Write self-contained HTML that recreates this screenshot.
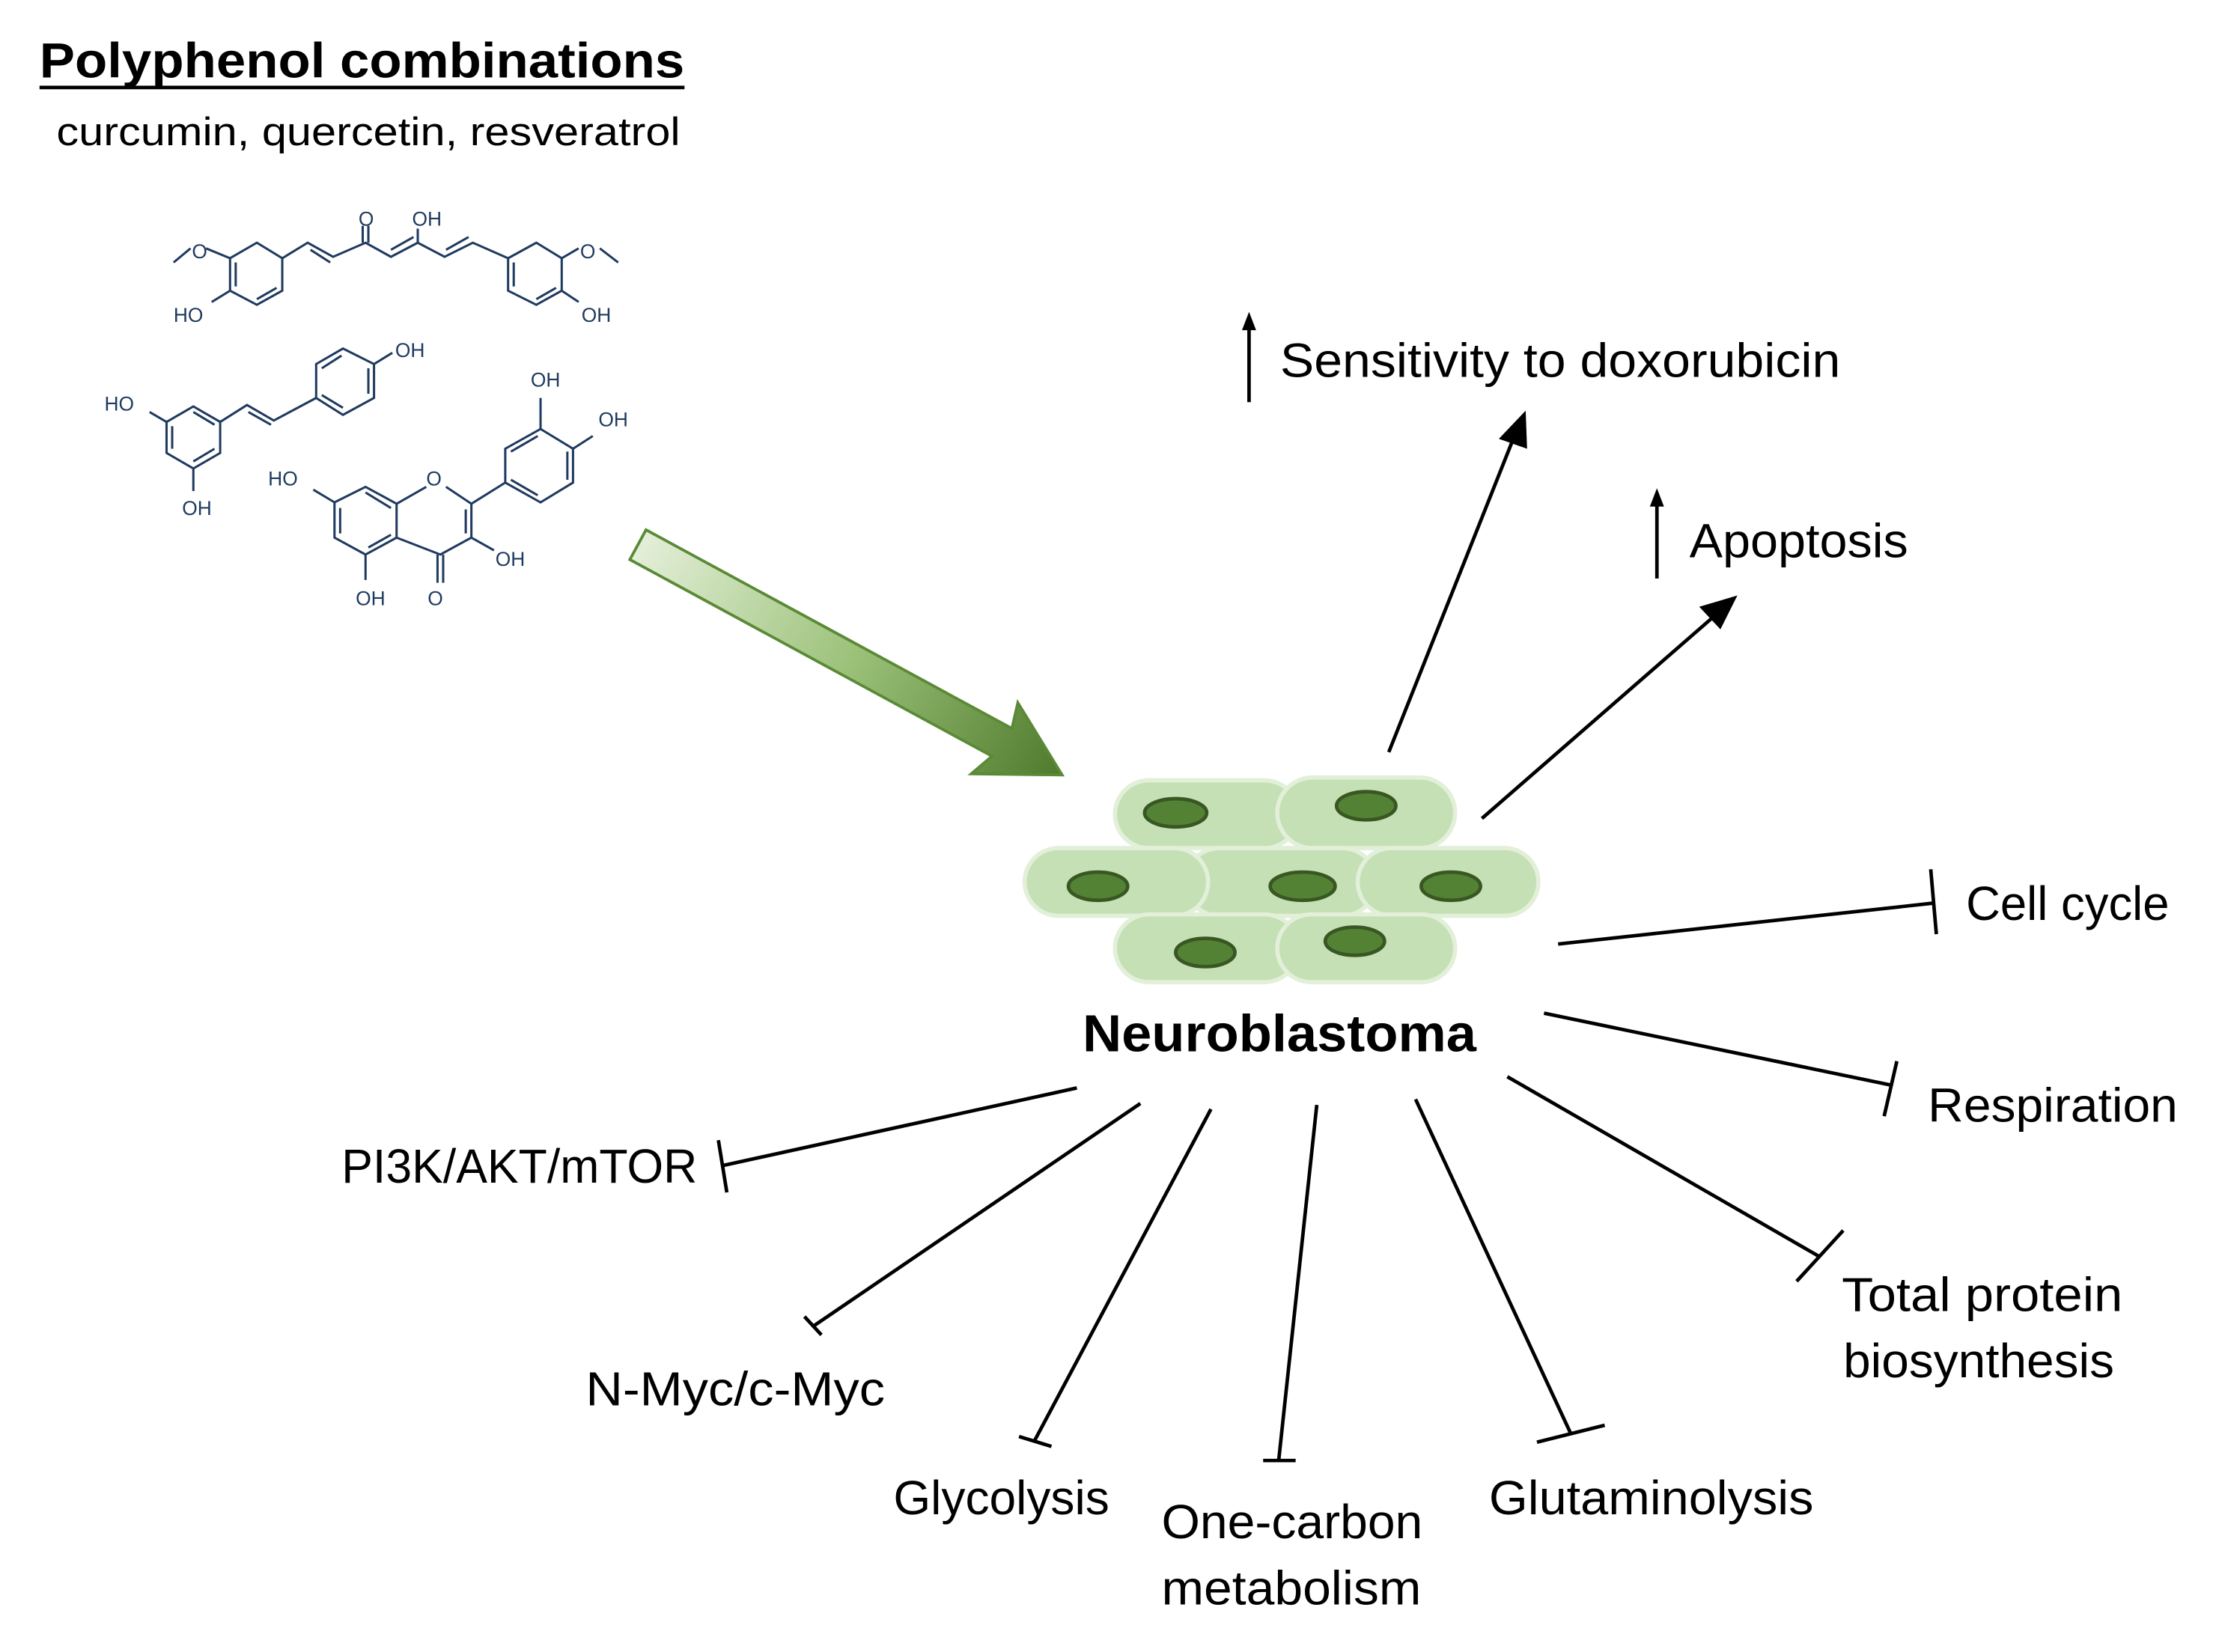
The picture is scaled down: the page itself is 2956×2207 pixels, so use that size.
<!DOCTYPE html>
<html><head><meta charset="utf-8"><style>html,body{margin:0;padding:0;background:#fff}svg{display:block}</style></head>
<body>
<svg width="2956" height="2207" viewBox="0 0 1568 1170.7" xmlns="http://www.w3.org/2000/svg" font-family="'Liberation Sans', sans-serif">
<defs>
<linearGradient id="g" x1="0" y1="0" x2="1" y2="0">
<stop offset="0" stop-color="#e4efd9"/><stop offset="0.5" stop-color="#9cc27a"/><stop offset="1" stop-color="#4f7a2c"/>
</linearGradient>
</defs>
<rect width="1600" height="1200" fill="#fff"/>
<text x="28" y="55" font-size="35" font-weight="bold" textLength="457" lengthAdjust="spacingAndGlyphs">Polyphenol combinations</text>
<line x1="28" y1="62" x2="485" y2="62" stroke="#000" stroke-width="2.5"/>
<text x="40" y="103" font-size="28" textLength="442" lengthAdjust="spacingAndGlyphs">curcumin, quercetin, resveratrol</text>

<g stroke="#1f3a5f" stroke-width="1.6" fill="none">
<polygon points="163,183 182,172 200,183 200,206 182,216 163,206"/>
<line x1="167" y1="186" x2="167" y2="203"/><line x1="196" y1="204" x2="182" y2="212"/>
<polyline points="200,183 218,172 236,182 259,172 277,182 296,172 315,182 335,172 360,183"/>
<line x1="220" y1="177" x2="234" y2="186"/><line x1="277" y1="177" x2="293" y2="168"/><line x1="316" y1="177" x2="332" y2="168"/>
<line x1="257" y1="172" x2="257" y2="160"/><line x1="261" y1="172" x2="261" y2="160"/>
<line x1="296" y1="172" x2="296" y2="162"/>
<polygon points="360,183 380,172 398,183 398,206 380,216 360,206"/>
<line x1="364" y1="186" x2="364" y2="203"/><line x1="394" y1="204" x2="380" y2="212"/>
<polyline points="163,183 146,176"/><polyline points="135,176 123,186"/>
<polyline points="163,206 150,214"/>
<polyline points="398,183 410,176"/><polyline points="425,176 438,186"/>
<polyline points="398,206 410,214"/>
<polygon points="118,299 137,288 156,299 156,321 137,332 118,321"/>
<line x1="122" y1="302" x2="122" y2="318"/><line x1="152" y1="318" x2="137" y2="327"/><line x1="137" y1="292" x2="152" y2="301"/>
<polyline points="156,299 175,287 194,298 224,282"/>
<line x1="176" y1="292" x2="192" y2="301"/>
<polygon points="224,258 243,247 265,258 265,282 243,294 224,282"/>
<line x1="228" y1="261" x2="242" y2="252"/><line x1="261" y1="261" x2="261" y2="279"/><line x1="228" y1="280" x2="243" y2="289"/>
<line x1="265" y1="258" x2="278" y2="250"/>
<line x1="118" y1="299" x2="106" y2="292"/>
<line x1="137" y1="332" x2="137" y2="348"/>
<polygon points="237,356 259,345 281,357 281,381 259,393 237,381"/>
<line x1="241" y1="360" x2="241" y2="378"/><line x1="259" y1="349" x2="277" y2="360"/><line x1="261" y1="388" x2="277" y2="379"/>
<polyline points="281,357 302,345"/><polyline points="316,345 334,357 334,381 312,393 281,381"/>
<line x1="330" y1="361" x2="330" y2="378"/>
<line x1="310" y1="393" x2="310" y2="413"/><line x1="314" y1="393" x2="314" y2="413"/>
<line x1="259" y1="393" x2="259" y2="411"/>
<line x1="334" y1="381" x2="350" y2="390"/>
<line x1="237" y1="356" x2="222" y2="347"/>
<line x1="334" y1="357" x2="358" y2="342"/>
<polygon points="358,342 358,318 383,304 406,318 406,342 383,356"/>
<line x1="362" y1="320" x2="381" y2="309"/><line x1="402" y1="320" x2="402" y2="340"/><line x1="362" y1="340" x2="381" y2="351"/>
<line x1="383" y1="304" x2="383" y2="282"/>
<line x1="406" y1="318" x2="420" y2="309"/>
</g>
<g fill="#1f3a5f" font-size="14">
<text x="136" y="183">O</text><text x="123" y="228">HO</text>
<text x="254" y="160">O</text><text x="292" y="160">OH</text>
<text x="411" y="183">O</text><text x="412" y="228">OH</text>
<text x="74" y="291">HO</text><text x="129" y="365">OH</text><text x="280" y="253">OH</text>
<text x="190" y="344">HO</text><text x="302" y="344">O</text><text x="376" y="274">OH</text><text x="424" y="302">OH</text>
<text x="351" y="401">OH</text><text x="252" y="429">OH</text><text x="303" y="429">O</text>
</g>

<g transform="translate(452,386) rotate(28.5)">
<polygon points="0,-12 295,-12 290,-30 342,0 285,30 292,12 0,12" fill="url(#g)" stroke="#5a8a36" stroke-width="2"/>
</g>

<g stroke="#e2efd9" stroke-width="3" fill="#c5e0b4">
<rect x="790" y="553" width="130" height="48" rx="24"/>
<rect x="905" y="551" width="126" height="50" rx="25"/>
<rect x="840" y="601" width="135" height="48" rx="24"/>
<rect x="726" y="601" width="130" height="48" rx="24"/>
<rect x="962" y="601" width="128" height="48" rx="24"/>
<rect x="790" y="648" width="130" height="48" rx="24"/>
<rect x="905" y="648" width="126" height="48" rx="24"/>
</g>
<g fill="#548235" stroke="#385723" stroke-width="2.5">
<ellipse cx="833" cy="576" rx="22" ry="10"/><ellipse cx="968" cy="571" rx="21" ry="10"/>
<ellipse cx="778" cy="628" rx="21" ry="10"/><ellipse cx="923" cy="628" rx="23" ry="10"/><ellipse cx="1028" cy="628" rx="21" ry="10"/>
<ellipse cx="854" cy="675" rx="21" ry="10"/><ellipse cx="960" cy="667" rx="21" ry="10"/>
</g>
<text x="767" y="745" font-size="37" font-weight="bold" textLength="279" lengthAdjust="spacingAndGlyphs">Neuroblastoma</text>

<g stroke="#000" stroke-width="2.5" fill="none">
<line x1="984" y1="533" x2="1071" y2="314"/>
<line x1="1050" y1="580" x2="1213" y2="438"/>
<line x1="885" y1="285" x2="885" y2="230"/>
<line x1="1174" y1="410" x2="1174" y2="355"/>
<line x1="1104" y1="669" x2="1370" y2="640"/><line x1="1368" y1="616" x2="1372" y2="662"/>
<line x1="1094" y1="718" x2="1340" y2="769"/><line x1="1344" y1="752" x2="1335" y2="791"/>
<line x1="1068" y1="763" x2="1290" y2="891"/><line x1="1306" y1="872" x2="1273" y2="908"/>
<line x1="1003" y1="779" x2="1113" y2="1016"/><line x1="1089" y1="1022" x2="1137" y2="1010"/>
<line x1="933" y1="783" x2="906" y2="1035"/><line x1="895" y1="1035" x2="918" y2="1035"/>
<line x1="858" y1="786" x2="733" y2="1021"/><line x1="722" y1="1018" x2="745" y2="1025"/>
<line x1="808" y1="782" x2="576" y2="940"/><line x1="570" y1="933" x2="582" y2="946"/>
<line x1="763" y1="771" x2="512" y2="826"/><line x1="509" y1="808" x2="515" y2="845"/>
</g>
<g fill="#000">
<polygon points="1081,291 1082,318 1062,311"/>
<polygon points="1231,422 1219,446 1204,430"/>
<polygon points="885,221 880,234 890,234"/>
<polygon points="1174,346 1169,359 1179,359"/>
</g>

<g font-size="34" fill="#000">
<text x="907" y="267" textLength="397" lengthAdjust="spacingAndGlyphs">Sensitivity to doxorubicin</text>
<text x="1197" y="395" textLength="155" lengthAdjust="spacingAndGlyphs">Apoptosis</text>
<text x="1393" y="652" textLength="144" lengthAdjust="spacingAndGlyphs">Cell cycle</text>
<text x="1366" y="795" textLength="177" lengthAdjust="spacingAndGlyphs">Respiration</text>
<text x="1305" y="929" textLength="199" lengthAdjust="spacingAndGlyphs">Total protein</text>
<text x="1306" y="976" textLength="192" lengthAdjust="spacingAndGlyphs">biosynthesis</text>
<text x="1055" y="1073" textLength="230" lengthAdjust="spacingAndGlyphs">Glutaminolysis</text>
<text x="823" y="1090" textLength="185" lengthAdjust="spacingAndGlyphs">One-carbon</text>
<text x="823" y="1137" textLength="184" lengthAdjust="spacingAndGlyphs">metabolism</text>
<text x="633" y="1073" textLength="153" lengthAdjust="spacingAndGlyphs">Glycolysis</text>
<text x="415" y="996" textLength="212" lengthAdjust="spacingAndGlyphs">N-Myc/c-Myc</text>
<text x="242" y="838" textLength="252" lengthAdjust="spacingAndGlyphs">PI3K/AKT/mTOR</text>
</g>
</svg>
</body></html>
